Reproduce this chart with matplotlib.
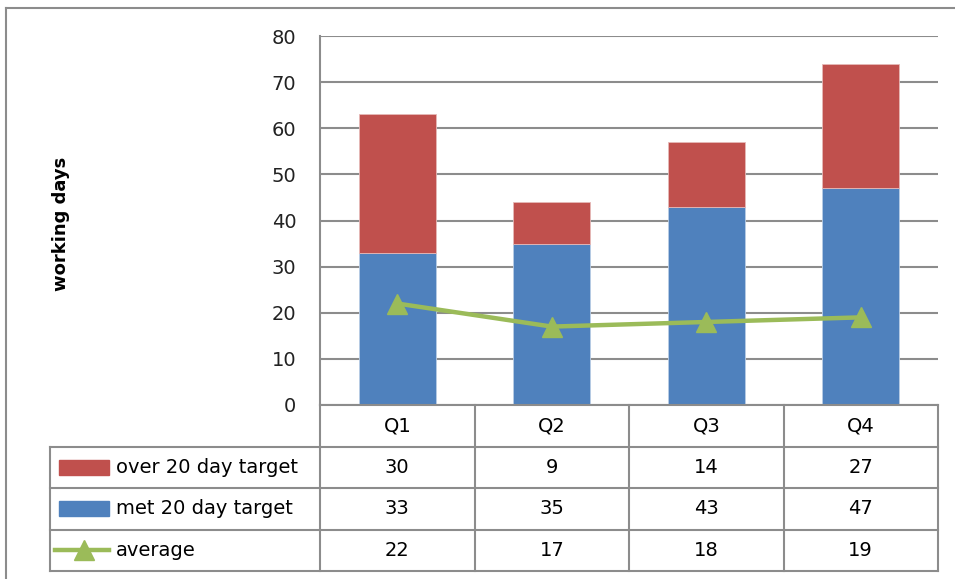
import numpy as np
import matplotlib.pyplot as plt
from matplotlib.lines import Line2D
from matplotlib.patches import Rectangle

quarters = ['Q1', 'Q2', 'Q3', 'Q4']
over_target = [30, 9, 14, 27]
met_target = [33, 35, 43, 47]
average = [22, 17, 18, 19]

red = '#C0504D'
blue = '#4F81BD'
green = '#9BBB59'
grid_col = '#8C8C8C'
fs = 14

W, H = 955, 579
fig = plt.figure(figsize=(W / 100, H / 100), dpi=100)

# pixel box helper -> figure fractions
def box(x0, y0, x1, y1):
    return [x0 / W, 1 - y1 / H, (x1 - x0) / W, (y1 - y0) / H]

ax = fig.add_axes(box(320, 36, 938, 405))
x = np.arange(len(quarters))

ax.bar(x, met_target, 0.5, color=blue, edgecolor='#B9CDE5', linewidth=0.6, zorder=2)
ax.bar(x, over_target, 0.5, bottom=met_target, color=red, edgecolor='#E6B9B8',
       linewidth=0.6, zorder=2)
ax.plot(x, average, color=green, lw=3.2, marker='^', ms=14, zorder=3)

ax.set_xlim(-0.5, 3.5)
ax.set_ylim(0, 80)
ax.set_yticks(range(0, 81, 10))
ax.set_xticks([])
ax.tick_params(axis='y', length=0, pad=17, labelsize=fs, labelcolor='#222222')
ax.yaxis.grid(True, color=grid_col, lw=1.5, zorder=0)
ax.set_axisbelow(True)
for s in ['top', 'right', 'bottom']:
    ax.spines[s].set_visible(False)
ax.spines['left'].set_color(grid_col)
ax.spines['left'].set_linewidth(1.5)
ax.set_ylabel('working days', fontsize=13, fontweight='bold', labelpad=0)
ax.yaxis.set_label_coords(-0.405, 0.49)

# data table under the plot, sharing the bar positions
tax = fig.add_axes(box(320, 405, 938, 571))
tax.set_xlim(-0.5, 3.5)
tax.set_ylim(4, 0)
tax.axis('off')
left_edge = -0.5 - 270 / 154.5

kw = dict(color=grid_col, lw=1.5, clip_on=False)
tax.plot([-0.5, 3.5], [0, 0], **kw)
for r in range(1, 5):
    tax.plot([left_edge, 3.5], [r, r], **kw)
tax.plot([left_edge, left_edge], [1, 4], **kw)
for c in range(5):
    tax.plot([c - 0.5, c - 0.5], [0, 4], **kw)

for i, q in enumerate(quarters):
    tax.text(i, 0.5, q, ha='center', va='center', fontsize=fs)
rows = [over_target, met_target, average]
for r, vals in enumerate(rows):
    for i, v in enumerate(vals):
        tax.text(i, r + 1.5, str(v), ha='center', va='center', fontsize=fs)

# row headers with their legend keys
names = ['over 20 day target', 'met 20 day target', 'average']
kx0 = left_edge + 9 / 154.5
kx1 = left_edge + 59 / 154.5
tx = left_edge + 66 / 154.5
for r, col in enumerate([red, blue]):
    tax.add_patch(Rectangle((kx0, r + 1.32), kx1 - kx0, 0.36, color=col, clip_on=False))
tax.plot([left_edge + 5 / 154.5, kx1], [3.5, 3.5], color=green, lw=3.2, clip_on=False)
tax.plot([(kx0 + kx1) / 2], [3.5], color=green, marker='^', ms=14, clip_on=False)
for r, n in enumerate(names):
    tax.text(tx, r + 1.5, n, ha='left', va='center', fontsize=fs)

# outer chart frame
fig.add_artist(Line2D([6 / W, 6 / W], [0, 1 - 8 / H], color=grid_col, lw=1.5))
fig.add_artist(Line2D([6 / W, 1], [1 - 8 / H, 1 - 8 / H], color=grid_col, lw=1.5))

fig.savefig('out.png', dpi=100)
